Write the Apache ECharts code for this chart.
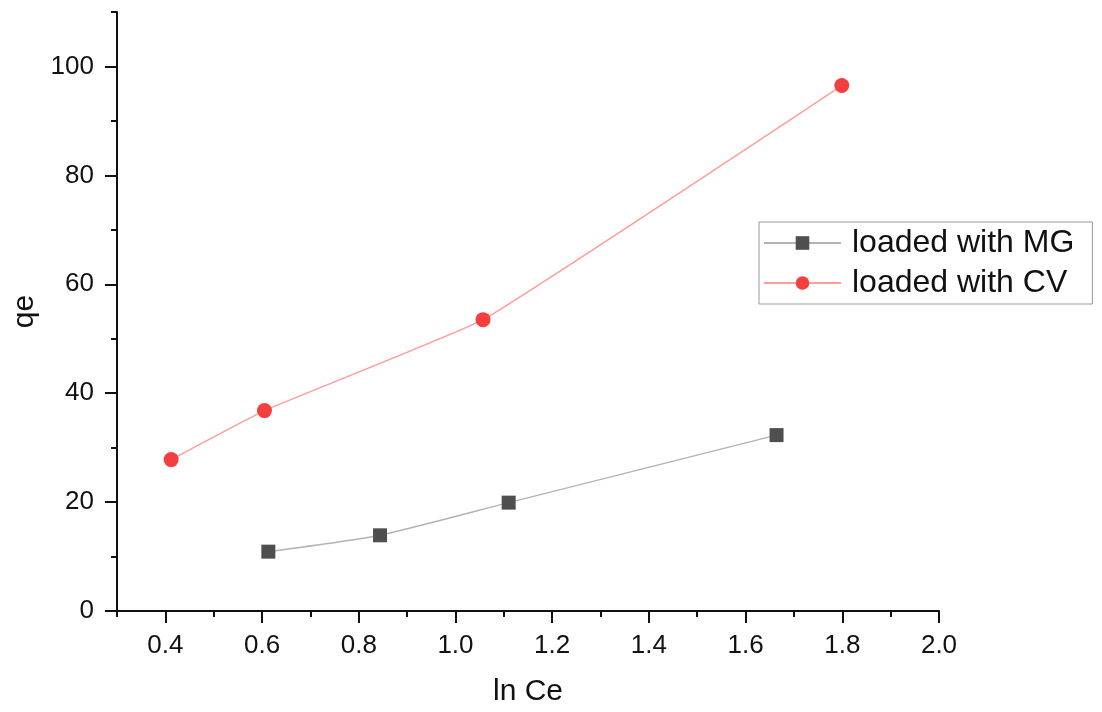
<!DOCTYPE html>
<html>
<head>
<meta charset="utf-8">
<script src="https://cdn.jsdelivr.net/npm/echarts@6/dist/echarts.min.js"></script>
<style>
html,body{margin:0;padding:0;background:#fff;}
#chart{width:1102px;height:712px;}
</style>
</head>
<body>
<div id="chart"></div>
<script>
// Data
const mgX = [0.613, 0.844, 1.110, 1.664];
const mgY = [10.9, 13.9, 19.9, 32.3];
const cvX = [0.412, 0.605, 1.057, 1.799];
const cvY = [27.8, 36.8, 53.5, 96.5];
const seriesNames = ['loaded with MG', 'loaded with CV'];
const xMajorTicks = [0.4, 0.6, 0.8, 1.0, 1.2, 1.4, 1.6, 1.8, 2.0];
const xMinorTicks = [0.3, 0.5, 0.7, 0.9, 1.1, 1.3, 1.5, 1.7, 1.9];
const yMajorTicks = [0, 20, 40, 60, 80, 100];
const yMinorTicks = [10, 30, 50, 70, 90, 110];
const xTitle = 'ln Ce';
const yTitle = 'qe';

const font = "'Liberation Sans', Arial, sans-serif";
const chart = echarts.init(document.getElementById('chart'), null, {renderer: 'canvas'});

const pairs = (xs, ys) => xs.map((x, i) => [x, ys[i]]);

const option = {
  backgroundColor: '#fff',
  animation: false,
  grid: {left: 117, right: 163, top: 12, bottom: 99, containLabel: false},
  legend: {
    orient: 'vertical',
    left: 759,
    top: 222,
    backgroundColor: '#fff',
    borderColor: '#999',
    borderWidth: 1,
    padding: [5, 18, 5, 4],
    itemWidth: 77,
    itemHeight: 17,
    itemGap: 8,
    textStyle: {fontFamily: font, fontSize: 32, color: '#111', lineHeight: 31, padding: [0, 0, 0, 6]},
    data: seriesNames
  },
  xAxis: [
    {
      type: 'value', position: 'bottom', min: 0.3, max: 2.0, interval: 0.1,
      name: xTitle, nameLocation: 'middle', nameGap: 66,
      nameTextStyle: {fontFamily: font, fontSize: 30, color: '#111'},
      axisLine: {show: true, onZero: false, lineStyle: {color: '#111', width: 2}},
      axisTick: {show: true, customValues: xMajorTicks, length: 12, lineStyle: {color: '#111', width: 2}},
      axisLabel: {show: true, customValues: xMajorTicks, margin: 22, fontFamily: font, fontSize: 26, color: '#111',
        formatter: v => v.toFixed(1)},
      splitLine: {show: false}
    },
    {
      type: 'value', position: 'bottom', min: 0.3, max: 2.0, interval: 0.1,
      axisLine: {show: false, onZero: false},
      axisTick: {show: true, customValues: xMinorTicks, length: 6, lineStyle: {color: '#111', width: 2}},
      axisLabel: {show: false},
      splitLine: {show: false}
    }
  ],
  yAxis: [
    {
      type: 'value', position: 'left', min: 0, max: 110, interval: 10,
      name: yTitle, nameLocation: 'middle', nameGap: 75, nameRotate: 90,
      nameTextStyle: {fontFamily: font, fontSize: 30, color: '#111'},
      axisLine: {show: true, onZero: false, lineStyle: {color: '#111', width: 2}},
      axisTick: {show: true, customValues: yMajorTicks, length: 12, lineStyle: {color: '#111', width: 2}},
      axisLabel: {show: true, customValues: yMajorTicks, margin: 23, fontFamily: font, fontSize: 26, color: '#111'},
      splitLine: {show: false}
    },
    {
      type: 'value', position: 'left', min: 0, max: 110, interval: 10,
      axisLine: {show: false, onZero: false},
      axisTick: {show: true, customValues: yMinorTicks, length: 6, lineStyle: {color: '#111', width: 2}},
      axisLabel: {show: false},
      splitLine: {show: false}
    }
  ],
  series: [
    {
      name: seriesNames[0], type: 'line', xAxisIndex: 0, yAxisIndex: 0,
      data: pairs(mgX, mgY),
      smooth: 0.2,
      symbol: 'rect', symbolSize: 14,
      itemStyle: {color: '#4f4f4f'},
      lineStyle: {color: '#b3b3b3', width: 1.5}
    },
    {
      name: seriesNames[1], type: 'line', xAxisIndex: 0, yAxisIndex: 0,
      data: pairs(cvX, cvY),
      smooth: 0.1,
      symbol: 'circle', symbolSize: 15,
      itemStyle: {color: '#f53f3f'},
      lineStyle: {color: '#ff9d9d', width: 1.5}
    }
  ]
};
chart.setOption(option);
</script>
</body>
</html>
